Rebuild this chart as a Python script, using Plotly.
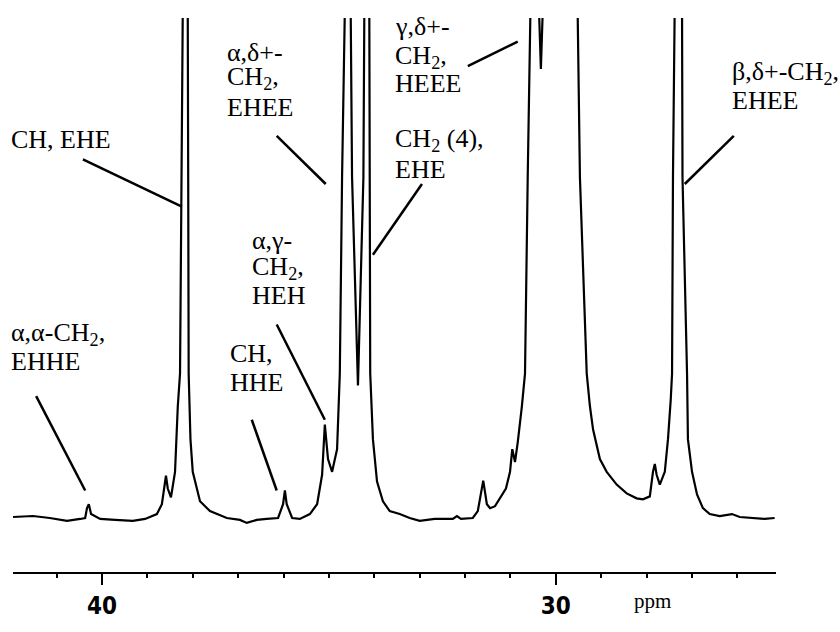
import plotly.graph_objects as go

# ---- spectrum: chemical shift (ppm) and intensity (a.u., baseline = 0)
ppm = [41.96, 41.52, 41.15, 40.77, 40.48, 40.37, 40.33, 40.29, 40.24, 40.04, 39.71, 39.32, 39.05,
       38.79, 38.68, 38.59, 38.55, 38.48, 38.39, 38.33, 38.28, 38.24, 38.22, 38.17, 38.11, 38.10,
       38.09, 38.05, 38.00, 37.84, 37.62, 37.25, 36.96, 36.81, 36.59, 36.37, 36.12, 36.01, 35.97,
       35.93, 35.81, 35.64, 35.42, 35.26, 35.15, 35.09, 35.02, 34.93, 34.82, 34.76, 34.71, 34.65,
       34.58, 34.52, 34.49, 34.36, 34.24, 34.22, 34.16, 34.11, 34.10, 34.09, 34.03, 33.94, 33.81,
       33.66, 33.44, 33.22, 33.00, 32.67, 32.27, 32.18, 32.09, 31.83, 31.72, 31.63, 31.60, 31.52,
       31.45, 31.34, 31.23, 31.10, 31.01, 30.96, 30.90, 30.84, 30.75, 30.68, 30.62, 30.55, 30.46,
       30.37, 30.33, 30.29, 29.91, 29.52, 29.47, 29.32, 29.25, 29.18, 29.03, 28.88, 28.66, 28.44,
       28.22, 28.08, 27.93, 27.86, 27.82, 27.78, 27.71, 27.60, 27.53, 27.47, 27.44, 27.42, 27.41,
       27.32, 27.22, 27.21, 27.11, 27.09, 27.00, 26.89, 26.76, 26.61, 26.39, 26.12, 25.95, 25.66,
       25.40, 25.18]
intensity = [1, 2, 0, -3, -1, 0, 10, 14, 4, -1, -2, -3, -1,
             4, 14, 43, 30, 21, 47, 113, 147, 347, 515, 800, 515, 347,
             147, 80, 47, 17, 7, 0, -2, -5, -2, -1, 0, 14, 28,
             14, 0, -1, 4, 14, 44, 95, 60, 47, 70, 147, 347, 515,
             800, 515, 347, 135, 347, 515, 800, 515, 347, 147, 80, 37, 17,
             7, 4, 0, -3, -1, -1, 2, -1, 0, 7, 34, 38, 14,
             10, 12, 20, 30, 47, 70, 57, 77, 113, 147, 347, 515, 800,
             515, 457, 515, 900, 515, 347, 147, 114, 90, 60, 47, 34, 25,
             20, 19, 22, 47, 55, 44, 34, 47, 80, 120, 147, 347, 515,
             800, 515, 347, 147, 80, 47, 24, 10, 4, 2, 4, 1, 0,
             -1, 0]

# ---- axis ticks
tick_values = [40, 30]
tick_labels = ["40", "30"]

# ---- peak assignments: text lines (ppm of left edge, intensity of line centre)
label_lines = [
    ("α,α-CH<sub>2</sub>,", 41.95, 187), ("EHHE", 41.95, 159),
    ("CH,", 37.22, 167), ("HHE", 37.22, 138),
    ("α,γ-", 36.74, 282), ("CH<sub>2</sub>,", 36.74, 254), ("HEH", 36.74, 226),
    ("CH, EHE", 41.95, 385),
    ("α,δ+-", 37.29, 474), ("CH<sub>2</sub>,", 37.29, 448), ("EHEE", 37.29, 418),
    ("γ,δ+-", 33.59, 500), ("CH<sub>2</sub>,", 33.59, 469), ("HEEE", 33.59, 442),
    ("CH<sub>2</sub> (4),", 33.59, 385), ("EHE", 33.59, 355),
    ("β,δ+-CH<sub>2</sub>,", 26.17, 453), ("EHEE", 26.17, 425),
]
# leader lines: (ppm0, int0, ppm1, int1)
leaders = [
    (41.45, 124, 40.37, 28),
    (36.70, 100, 36.15, 28),
    (36.15, 197, 35.09, 100),
    (40.42, 365, 38.24, 317),
    (36.15, 389, 35.07, 340),
    (32.95, 340, 34.03, 268),
    (31.94, 460, 30.84, 485),
    (26.08, 389, 27.16, 340),
]

fig = go.Figure()
fig.add_trace(go.Scatter(x=ppm, y=intensity, mode="lines",
                         line=dict(color="black", width=2.2), hoverinfo="skip"))

serif = "Liberation Serif"
for txt, xx, yy in label_lines:
    fig.add_annotation(x=xx, y=yy, xref="x", yref="y", text=txt, showarrow=False,
                       xanchor="left", yanchor="middle",
                       xshift=-4 if xx > 41.9 else 0,
                       font=dict(family=serif, size=26, color="black"))
for x0, y0, x1, y1 in leaders:
    fig.add_shape(type="line", xref="x", yref="y", x0=x0, y0=y0, x1=x1, y1=y1,
                  line=dict(color="black", width=2.5))

fig.add_annotation(x=27.86, y=-0.053, xref="x", yref="paper", text="ppm", showarrow=False,
                   xanchor="center", yanchor="middle",
                   font=dict(family=serif, size=21, color="black"))

fig.update_layout(
    width=840, height=632,
    margin=dict(l=13, r=64, t=18, b=50),
    paper_bgcolor="white", plot_bgcolor="white",
    showlegend=False,
    xaxis=dict(range=[41.96, 25.15], showgrid=False, zeroline=False,
               showline=True, linecolor="black", linewidth=2,
               ticks="outside", tickvals=tick_values, ticktext=tick_labels,
               ticklen=11, tickwidth=2, tickcolor="black",
               tickfont=dict(family="DejaVu Sans Condensed", size=24, color="black", weight="bold"),
               minor=dict(dtick=1, tick0=40, ticks="outside", ticklen=4, tickwidth=1.5,
                          tickcolor="black")),
    yaxis=dict(range=[-55, 509], visible=False, showgrid=False, zeroline=False),
)

fig.write_html("out.html", config={"displayModeBar": False},
               post_script="document.body.style.margin='0px';")
